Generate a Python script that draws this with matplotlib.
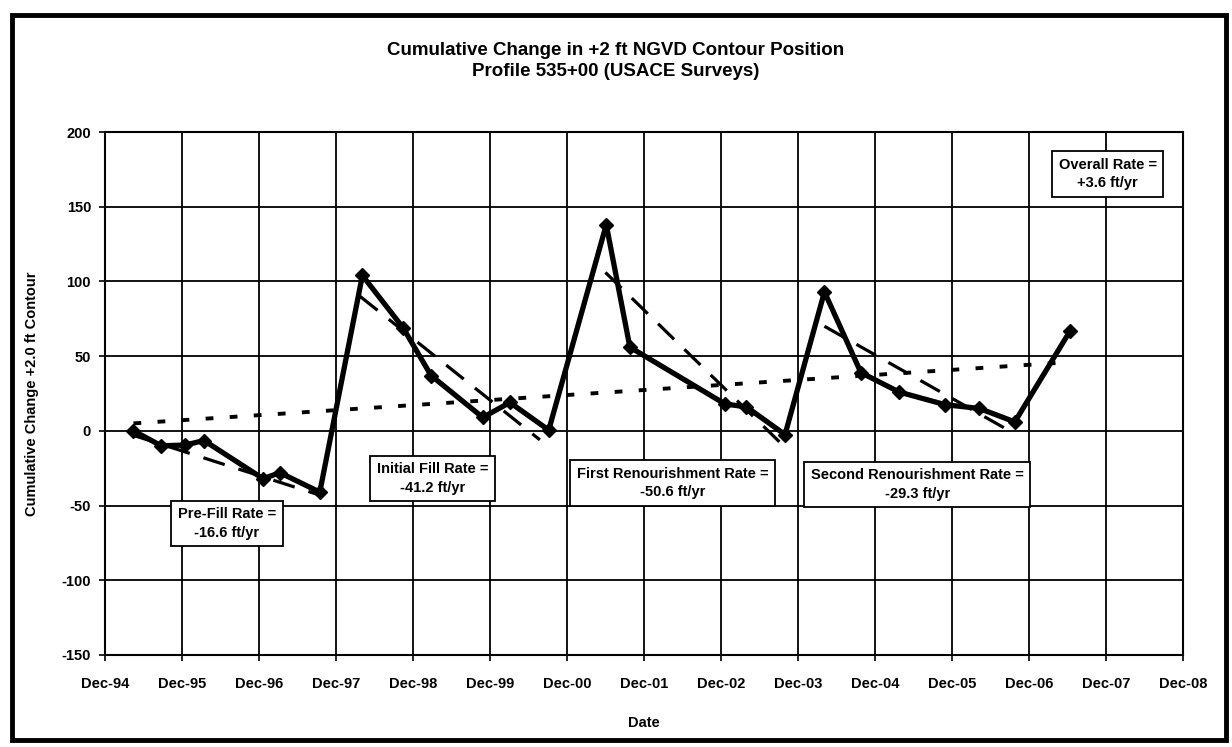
import matplotlib
matplotlib.use("Agg")
import matplotlib.pyplot as plt
from matplotlib.patches import Rectangle
import numpy as np
import datetime as dt

plt.rcParams['font.family'] = ['Liberation Sans', 'DejaVu Sans']

# ---- data ----
survey_dates = ["1995-04-15", "1995-08-25", "1995-12-15", "1996-03-15", "1996-12-20",
                "1997-03-10", "1997-09-15", "1998-04-05", "1998-10-15", "1999-02-25",
                "1999-10-28", "2000-03-05", "2000-09-05", "2001-06-05", "2001-09-25",
                "2002-12-20", "2003-04-01", "2003-10-01", "2004-04-05", "2004-09-25",
                "2005-03-25", "2005-10-30", "2006-04-10", "2006-09-25", "2007-06-15"]
cum_change = [0, -10, -9.5, -6.5, -32, -28, -41, 104, 69, 37,
              9, 19, 0.5, 138, 56, 18, 16, -2.5, 93, 39,
              26, 17.5, 15, 6, 67]

prefill_dates = ["1995-04-15", "1997-09-15"]
prefill_vals = [-3, -43]
initial_dates = ["1998-03-25", "2000-07-25"]
initial_vals = [90, -6]
first_dates = ["2001-06-01", "2003-10-01"]
first_vals = [106, -11]
second_dates = ["2004-04-05", "2006-09-25"]
second_vals = [70, -2]
overall_dates = ["1995-04-15", "2007-06-15"]
overall_vals = [5, 46]

tick_years = list(range(1994, 2009))
tick_labels = ["Dec-%02d" % (y % 100) for y in tick_years]

labels = ["Pre-Fill Rate =\n-16.6 ft/yr", "Initial Fill Rate =\n-41.2 ft/yr",
          "First Renourishment Rate =\n-50.6 ft/yr", "Second Renourishment Rate =\n-29.3 ft/yr",
          "Overall Rate =\n+3.6 ft/yr"]
label_dates = ["1996-07-01", "1999-03-05", "2002-04-15", "2005-06-20", "2007-12-10"]
label_vals = [-62, -32, -35, -36, 172]


def to_dt(lst):
    return [dt.datetime.strptime(s, "%Y-%m-%d") for s in lst]


fig = plt.figure(figsize=(12.32, 7.47), dpi=100)
ax = fig.add_axes([105 / 1232, 1 - 655 / 747, (1183 - 105) / 1232, (655 - 132) / 747])

# outer chart border
fig.patches.append(Rectangle((12 / 1232, 7 / 747), (1226 - 12) / 1232, (732 - 7) / 747,
                             transform=fig.transFigure, fill=False, edgecolor='black',
                             linewidth=3.5))

ticks = [dt.datetime(y, 12, 1) for y in tick_years]
ax.set_xlim(ticks[0], ticks[-1])
ax.set_ylim(-150, 200)
ax.set_xticks(ticks)
ax.set_xticklabels(tick_labels, fontsize=10.5, fontweight='bold')
ax.set_yticks(np.arange(-150, 201, 50))
ax.set_yticklabels([str(v) for v in range(-150, 201, 50)], fontsize=10.5, fontweight='bold')
ax.tick_params(axis='x', direction='out', length=4, width=1.2, colors='black', pad=12)
ax.tick_params(axis='y', direction='out', length=4, width=1.2, colors='black', pad=6)
ax.grid(True, color='black', linewidth=1.3)
ax.set_axisbelow(True)
for s in ax.spines.values():
    s.set_linewidth(1.5)

ax.plot(to_dt(overall_dates), overall_vals, color='black', linewidth=2.8,
        linestyle=(0, (2.0, 4.2)), zorder=3)
for d, v in [(prefill_dates, prefill_vals), (initial_dates, initial_vals),
             (first_dates, first_vals), (second_dates, second_vals)]:
    ax.plot(to_dt(d), v, color='black', linewidth=2.3, linestyle=(0, (7, 4.5)), zorder=3)

ax.plot(to_dt(survey_dates), cum_change, color='black', linewidth=3.8, marker='D',
        markersize=7, zorder=4)

for t, d, v in zip(labels, label_dates, label_vals):
    ax.text(to_dt([d])[0], v, t, ha='center', va='center', fontsize=10.5,
            fontweight='bold', zorder=6, linespacing=1.4,
            bbox=dict(boxstyle='square,pad=0.45', facecolor='white', edgecolor='black',
                      linewidth=1.3))

fig.text(0.5, 1 - 61 / 747, "Cumulative Change in +2 ft NGVD Contour Position\nProfile 535+00 (USACE Surveys)",
         ha='center', va='center', fontsize=13.5, fontweight='bold', linespacing=1.3)
ax.set_xlabel("Date", fontsize=10.5, fontweight='bold', labelpad=18)
ax.set_ylabel("Cumulative Change +2.0 ft Contour", fontsize=10.5, fontweight='bold', labelpad=16)

fig.savefig("out.png", dpi=100)
